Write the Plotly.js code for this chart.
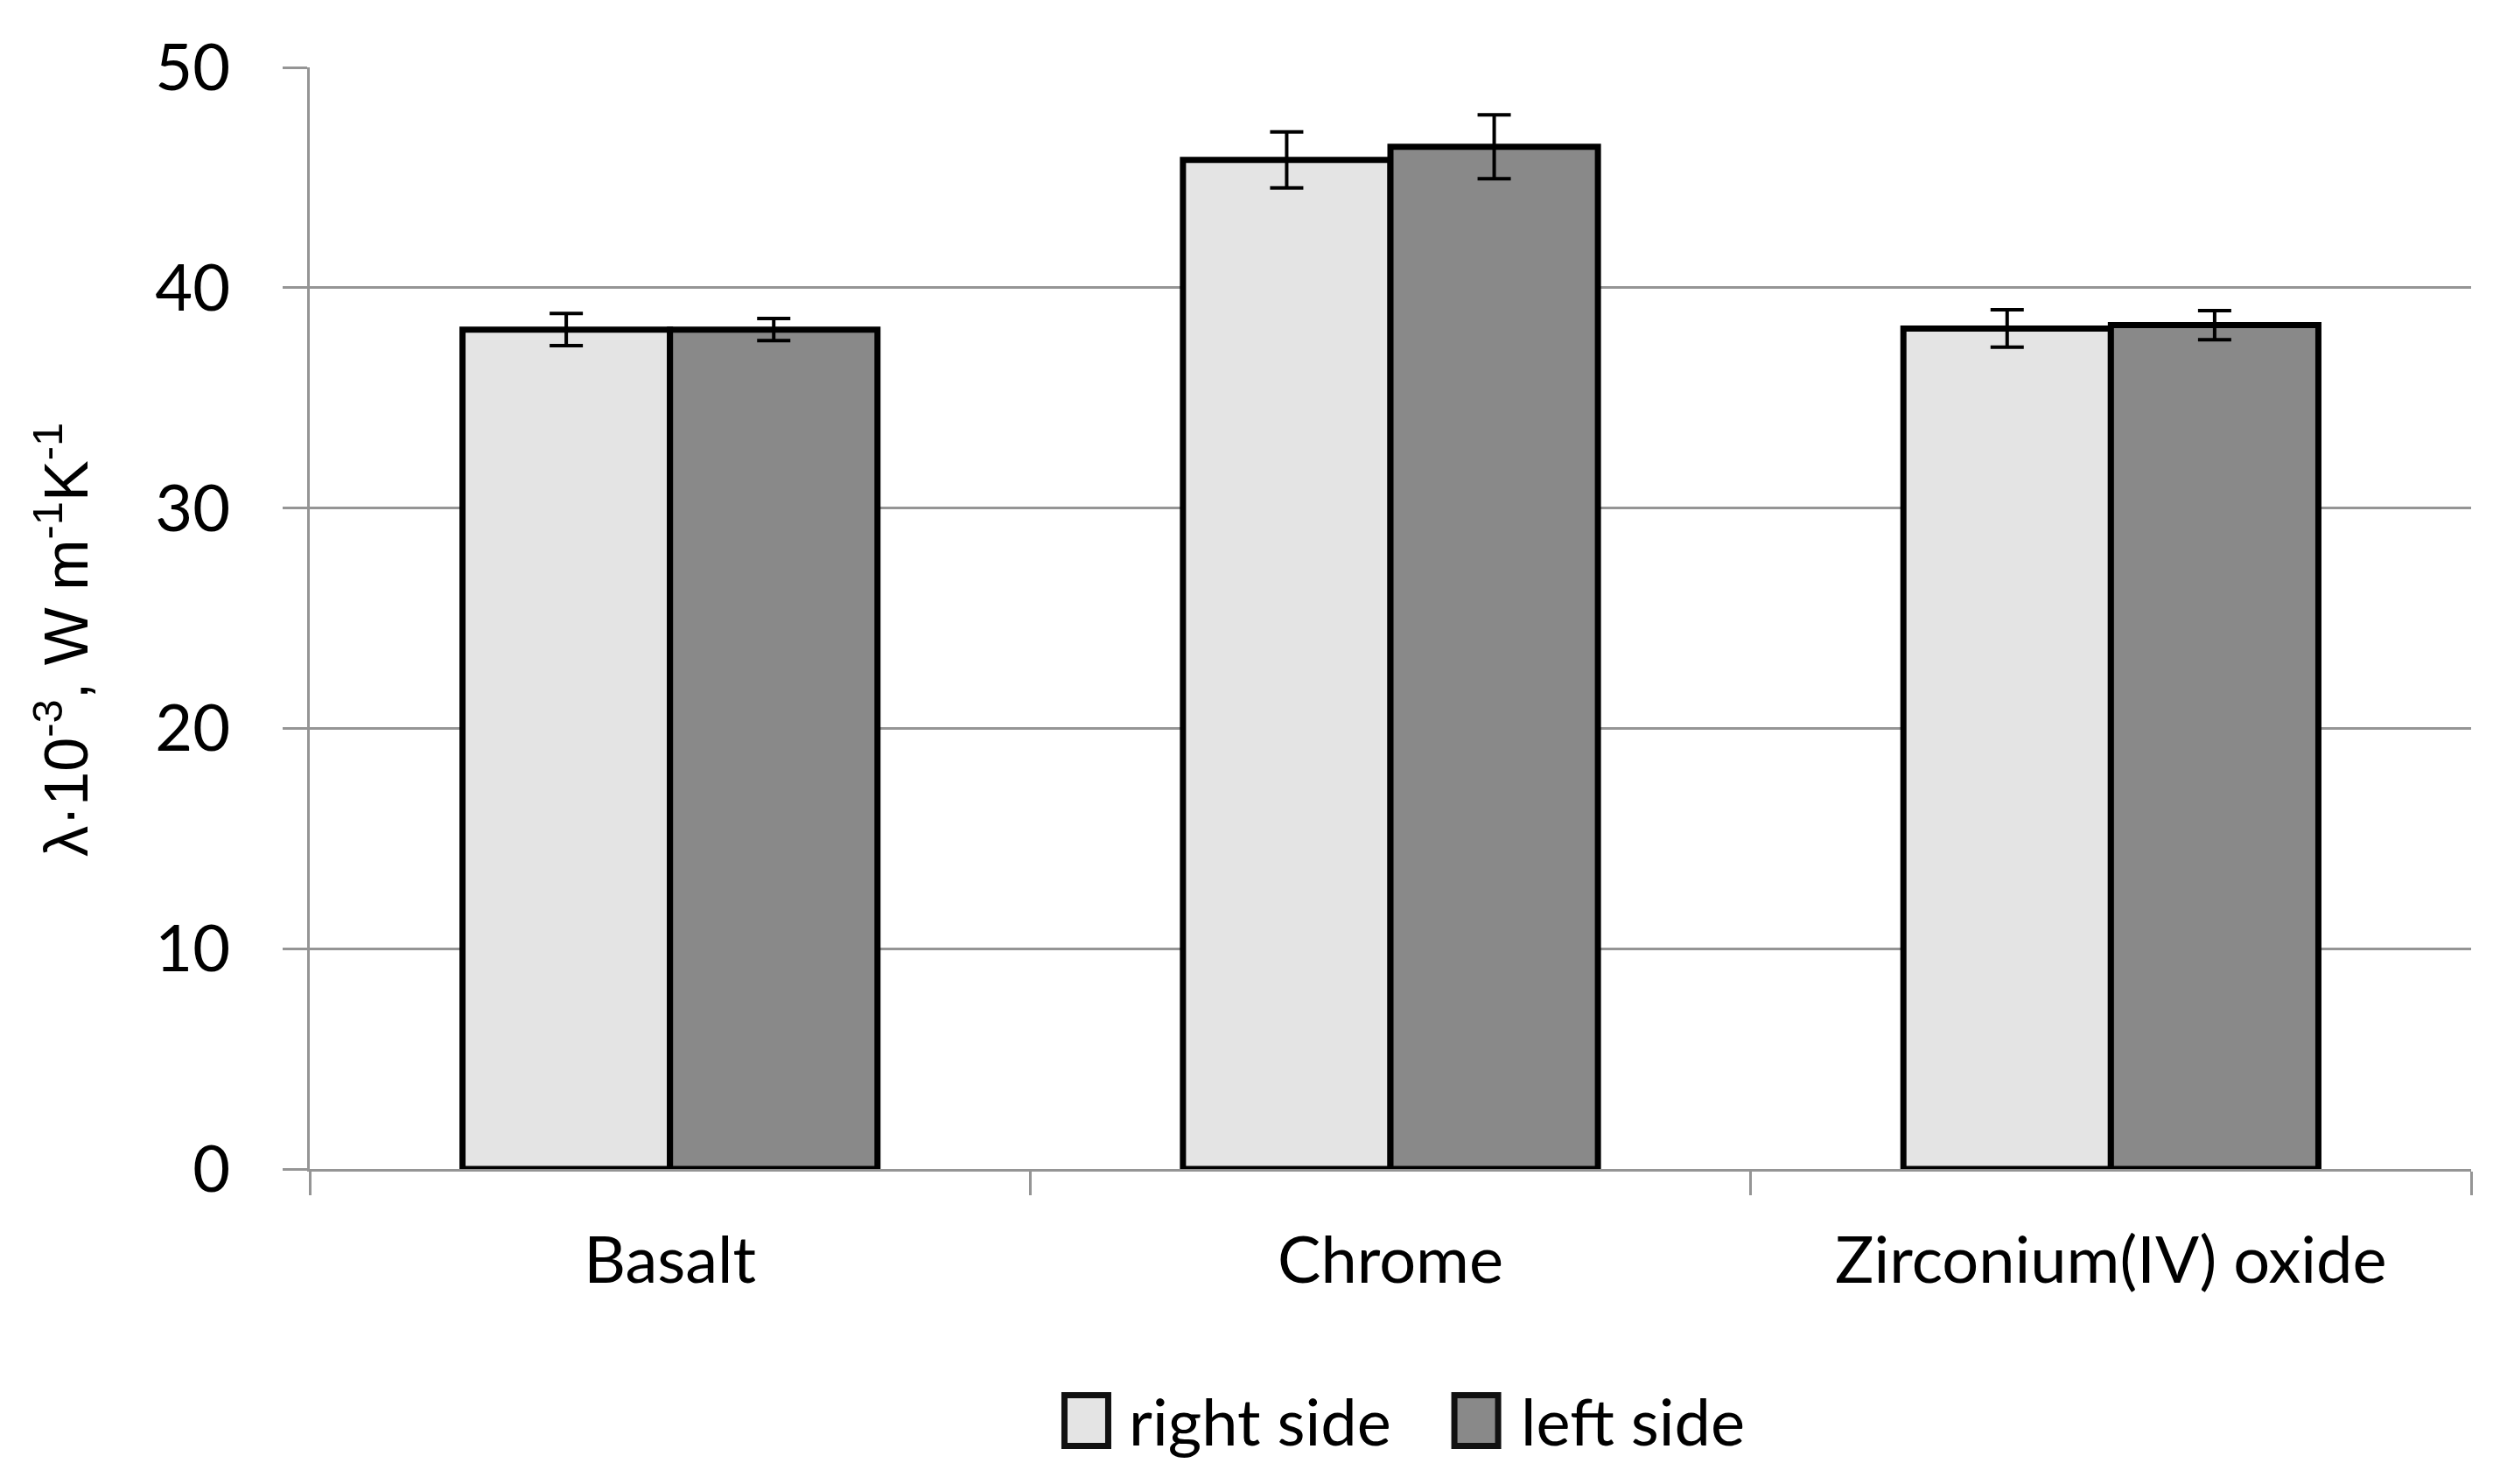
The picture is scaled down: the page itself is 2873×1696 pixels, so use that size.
<!DOCTYPE html>
<html>
<head>
<meta charset="utf-8">
<script src="https://cdn.plot.ly/plotly-3.0.1.min.js"></script>
<style>
  html, body { margin: 0; padding: 0; background: #fff; }
  #graphDiv { width: 2873px; height: 1696px; }
</style>
</head>
<body>
<div id="graphDiv"></div>
<script>
// thermal conductivity, both sides of the sample
const materials = ['Basalt', 'Chrome', 'Zirconium(IV) oxide']
const rightSide = [38.1, 45.8, 38.15]
const rightErr = [0.73, 1.27, 0.85]
const leftSide = [38.1, 46.4, 38.3]
const leftErr = [0.5, 1.45, 0.66]
const seriesNames = ['right side', 'left side']
const seriesColors = ['#e4e4e4', '#898989']
const yTicks = [0, 10, 20, 30, 40, 50]

const fontFace = 'Lato, "Liberation Sans", sans-serif'
const gridGray = '#959595'

let graphDiv = document.getElementById('graphDiv')

function barTrace(name, y, err, color) {
    return {
        type: 'bar',
        name: name,
        x: materials,
        y: y,
        showlegend: false,
        marker: {
            color: color,
            line: { color: '#000', width: 7 }
        },
        error_y: {
            type: 'data',
            array: err,
            visible: true,
            color: '#000',
            thickness: 4,
            width: 19
        }
    }
}

let traces = [
    barTrace(seriesNames[0], rightSide, rightErr, seriesColors[0]),
    barTrace(seriesNames[1], leftSide, leftErr, seriesColors[1])
]

// legend drawn as big swatches + labels (plotly's own bar swatch is fixed at 12px)
let legendSwatchX = [0.3593, 0.5397]
let legendTextX = [0.3781, 0.5595]
let legendY = -0.2284
let legendShapes = seriesNames.map((n, i) => ({
    type: 'rect',
    xref: 'paper', yref: 'paper',
    xsizemode: 'pixel', ysizemode: 'pixel',
    xanchor: legendSwatchX[i], yanchor: legendY,
    x0: -25, x1: 25, y0: -29, y1: 29,
    fillcolor: seriesColors[i],
    line: { color: '#111', width: 7 }
}))
let legendLabels = seriesNames.map((n, i) => ({
    text: n,
    xref: 'paper', yref: 'paper',
    x: legendTextX[i], y: legendY,
    xanchor: 'left', yanchor: 'middle',
    showarrow: false,
    font: { family: fontFace, size: 74, color: '#000' }
}))

const layout = {
    width: 2873,
    height: 1696,
    margin: { l: 354, r: 49, t: 77, b: 360 },
    paper_bgcolor: '#fff',
    plot_bgcolor: '#fff',
    barmode: 'group',
    bargap: 0.424,
    bargroupgap: 0,
    font: { family: fontFace, size: 74, color: '#000' },
    showlegend: false,
    xaxis: {
        type: 'category',
        showline: true,
        linecolor: gridGray,
        linewidth: 3,
        ticks: 'outside',
        tickson: 'boundaries',
        ticklen: 27,
        tickwidth: 3,
        tickcolor: gridGray,
        tickfont: { family: fontFace, size: 74, color: '#000' },
        ticklabelstandoff: 38,
        showgrid: false,
        zeroline: false
    },
    yaxis: {
        range: [0, 50],
        tickvals: yTicks,
        showline: true,
        linecolor: gridGray,
        linewidth: 3,
        ticks: 'outside',
        ticklen: 28,
        tickwidth: 3,
        tickcolor: gridGray,
        tickfont: { family: fontFace, size: 74, color: '#000' },
        ticklabelstandoff: 45,
        showgrid: true,
        gridcolor: gridGray,
        gridwidth: 3,
        zeroline: false
    },
    shapes: legendShapes,
    annotations: [{
        text: 'λ·10<sup>-3</sup>, W m<sup>-1</sup>K<sup>-1</sup>',
        xref: 'paper',
        yref: 'paper',
        x: -0.1146,
        y: 0.4805,
        xanchor: 'center',
        yanchor: 'middle',
        textangle: -90,
        showarrow: false,
        font: { family: '"Liberation Sans", Arial, sans-serif', size: 70, color: '#000' }
    }].concat(legendLabels)
}

Plotly.newPlot(graphDiv, traces, layout, { staticPlot: true, displayModeBar: false })
</script>
</body>
</html>
